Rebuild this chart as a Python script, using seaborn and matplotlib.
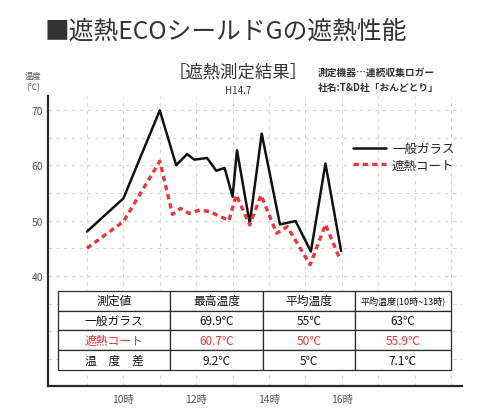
import matplotlib
matplotlib.use("Agg")
import matplotlib.pyplot as plt
import seaborn as sns
import pandas as pd

# data
hours_glass = [9, 10, 11, 11.45, 11.75, 11.95, 12.3, 12.55, 12.78, 13.0, 13.12, 13.47,
               13.8, 14.3, 14.73, 15.15, 15.55, 15.98]
temp_glass = [48, 54, 69.9, 60, 62, 61, 61.3, 59, 59.5, 54.3, 62.7, 49.5,
              65.7, 49.3, 49.9, 44.4, 60.3, 44.5]
hours_coat = [9, 10, 11, 11.35, 11.57, 11.8, 12.1, 12.37, 12.9, 13.1, 13.47,
              13.78, 14.21, 14.5, 15.13, 15.55, 15.96]
temp_coat = [45, 49.8, 60.7, 51.1, 52.2, 51.3, 51.9, 51.6, 50, 54.6, 49.2,
             54.6, 47.7, 48.9, 42, 49.3, 42.8]

series_names = ["一般ガラス", "遮熱コート"]
x_ticks = [10, 12, 14, 16]
x_tick_labels = ["10時", "12時", "14時", "16時"]
y_ticks = [40, 50, 60, 70]

table_header = ["測定値", "最高温度", "平均温度", "平均温度(10時~13時)"]
table_rows = [
    ["一般ガラス", "69.9℃", "55℃", "63℃"],
    ["遮熱コート", "60.7℃", "50℃", "55.9℃"],
    ["温　度　差", "9.2℃", "5℃", "7.1℃"],
]

RED = "#e8383d"
DARK = "#2b2b2b"

sns.set_style("white")
plt.rcParams["font.family"] = ["Noto Sans CJK JP", "DejaVu Sans"]

W, H = 494, 414
fig = plt.figure(figsize=(W / 100, H / 100), dpi=100)
fig.patch.set_facecolor("white")


def fx(px):
    return px / W


def fy(py):
    return 1 - py / H


ax = fig.add_axes([fx(48), fy(387), fx(462) - fx(48), fy(97) - fy(387)])

df_glass = pd.DataFrame({"hour": hours_glass, "temp": temp_glass})
df_coat = pd.DataFrame({"hour": hours_coat, "temp": temp_coat})

sns.lineplot(data=df_glass, x="hour", y="temp", ax=ax, color="#111111",
             linewidth=1.8, label=series_names[0], zorder=3)
sns.lineplot(data=df_coat, x="hour", y="temp", ax=ax, color=RED,
             linewidth=2.4, linestyle=(0, (1.6, 1.2)), label=series_names[1], zorder=3)

ax.set_xlim(7.93, 19.3)
ax.set_ylim(20.1, 72.5)
ax.set_xticks(x_ticks)
ax.set_xticklabels(x_tick_labels)
ax.set_yticks(y_ticks)
ax.set_xticks(range(9, 20), minor=True)
ax.set_yticks([25, 30, 35, 45, 55, 65], minor=True)
ax.tick_params(axis="both", which="both", length=0, labelsize=7.5, colors="#555555")
ax.tick_params(axis="x", pad=6)
ax.set_xlabel("")
ax.set_ylabel("")
ax.grid(True, which="both", color="#d5d5d5", linestyle=(0, (3, 4)), linewidth=0.8)
for s in ["top", "right"]:
    ax.spines[s].set_visible(False)
for s in ["left", "bottom"]:
    ax.spines[s].set_color(DARK)
    ax.spines[s].set_linewidth(1.6)

ax.legend(loc="upper left", bbox_to_anchor=(fx(342), fy(132)),
          bbox_transform=fig.transFigure, frameon=False, fontsize=9,
          handlelength=2.6, labelspacing=0.25, handletextpad=0.5)

# table drawn over the lower part of the plot
tbl = ax.table(cellText=table_rows, colLabels=table_header, cellLoc="center",
               colWidths=[0.285, 0.237, 0.234, 0.244],
               bbox=[0.024, 0.055, 0.949, 0.273])
tbl.auto_set_font_size(False)
tbl.set_fontsize(8.5)
tbl.set_zorder(5)
for (r, c), cell in tbl.get_celld().items():
    cell.set_facecolor("white")
    cell.set_edgecolor(DARK)
    cell.set_linewidth(0.9)
    if r == 2:
        cell.get_text().set_color(RED)
    else:
        cell.get_text().set_color("#111111")
tbl[0, 3].get_text().set_fontsize(6.5)

# titles and notes
fig.text(fx(45), fy(32), "■遮熱ECOシールドGの遮熱性能", fontsize=17.8,
         color="#333333", va="center", ha="left")
fig.text(fx(238), fy(73), "［遮熱測定結果］", fontsize=12.5, color="#333333",
         va="center", ha="center")
fig.text(fx(238), fy(91), "H14.7", fontsize=7, color="#333333",
         va="center", ha="center")
fig.text(fx(318), fy(73), "測定機器…連続収集ロガー", fontsize=7, color="#333333",
         va="center", ha="left", fontweight="bold")
fig.text(fx(318), fy(88), "社名:T&D社「おんどとり」", fontsize=7, color="#333333",
         va="center", ha="left", fontweight="bold")
fig.text(fx(33), fy(82), "温度\n(℃)", fontsize=6, color="#555555",
         va="center", ha="center", linespacing=1.3)

fig.savefig("out.png", dpi=100)
